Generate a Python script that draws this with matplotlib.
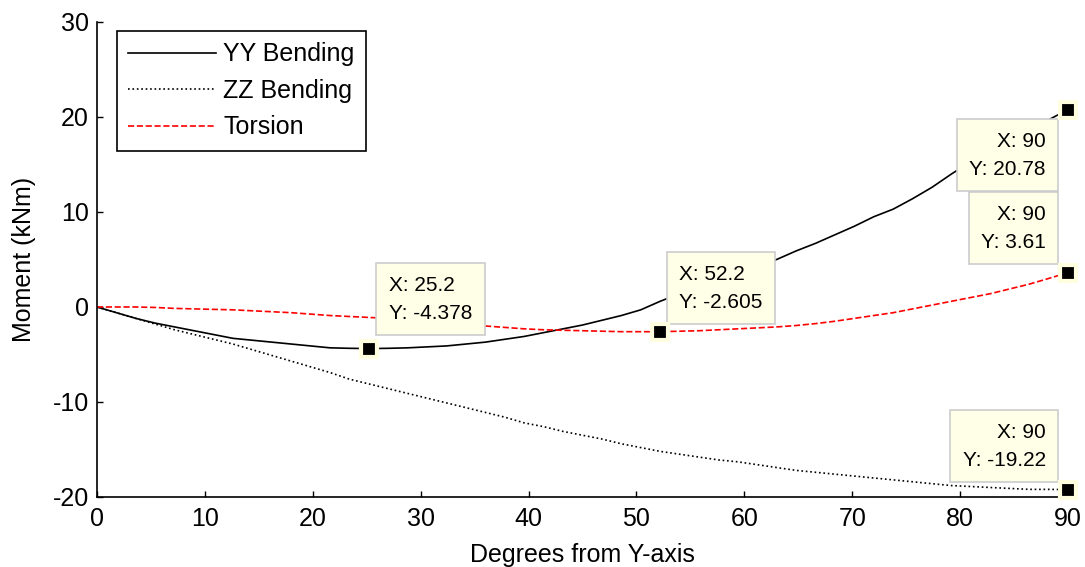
import matplotlib
matplotlib.use('Agg')
import matplotlib.pyplot as plt

plt.rcParams['font.family'] = ['Liberation Sans', 'DejaVu Sans']
plt.rcParams['axes.unicode_minus'] = False

# Angle (degrees from Y-axis), sampled every 1.8 deg
angle = [0, 1.8, 3.6, 5.4, 7.2, 9, 10.8, 12.6, 14.4, 16.2, 18, 19.8, 21.6, 23.4,
         25.2, 27, 28.8, 30.6, 32.4, 34.2, 36, 37.8, 39.6, 41.4, 43.2, 45, 46.8,
         48.6, 50.4, 52.2, 54, 55.8, 57.6, 59.4, 61.2, 63, 64.8, 66.6, 68.4, 70.2,
         72, 73.8, 75.6, 77.4, 79.2, 81, 82.8, 84.6, 86.4, 88.2, 90]

yy_bending = [0, -0.6, -1.2, -1.7, -2.1, -2.5, -2.9, -3.3, -3.5, -3.7, -3.9, -4.1,
              -4.3, -4.35, -4.378, -4.35, -4.3, -4.2, -4.1, -3.9, -3.7, -3.4, -3.1,
              -2.7, -2.3, -1.9, -1.4, -0.9, -0.3, 0.6, 1.4, 2.3, 3.1, 3.8, 4.4, 5.0,
              5.9, 6.7, 7.6, 8.5, 9.5, 10.3, 11.4, 12.6, 14.0, 15.3, 16.5, 17.6,
              18.7, 19.7, 20.78]

zz_bending = [0, -0.6, -1.2, -1.8, -2.4, -2.9, -3.4, -3.9, -4.5, -5.1, -5.7, -6.3,
              -6.9, -7.6, -8.1, -8.6, -9.1, -9.6, -10.1, -10.6, -11.1, -11.6, -12.2,
              -12.6, -13.1, -13.5, -13.9, -14.4, -14.8, -15.2, -15.5, -15.8, -16.1,
              -16.3, -16.6, -16.9, -17.2, -17.4, -17.6, -17.8, -18.0, -18.2, -18.4,
              -18.6, -18.8, -18.9, -19.0, -19.1, -19.2, -19.2, -19.22]

torsion = [0, 0, 0, -0.05, -0.15, -0.2, -0.25, -0.3, -0.4, -0.5, -0.6, -0.75, -0.9,
           -1.0, -1.1, -1.2, -1.35, -1.5, -1.65, -1.8, -2.0, -2.15, -2.3, -2.4,
           -2.45, -2.5, -2.55, -2.6, -2.6, -2.605, -2.55, -2.5, -2.4, -2.3, -2.2,
           -2.1, -1.95, -1.75, -1.5, -1.2, -0.9, -0.6, -0.2, 0.2, 0.6, 1.0, 1.4,
           1.9, 2.4, 3.0, 3.61]

# data tips: x, y, text alignment, offset (pixels)
tip_x = [25.2, 52.2, 90, 90, 90]
tip_y = [-4.378, -2.605, 20.78, 3.61, -19.22]
tip_labels = ['X: 25.2\nY: -4.378', 'X: 52.2\nY: -2.605', 'X: 90\nY: 20.78',
              'X: 90\nY: 3.61', 'X: 90\nY: -19.22']
tip_ha = ['left', 'left', 'right', 'right', 'right']
tip_va = ['bottom', 'bottom', 'top', 'bottom', 'bottom']
tip_off = [(20, 26), (19, 20), (-22, -22), (-22, 21), (-22, 20)]

fig = plt.figure(figsize=(10.85, 5.67), dpi=100)
ax = fig.add_axes([0.0894, 0.1235, 0.8949, 0.8377])

ax.plot(angle, yy_bending, '-', color='black', lw=1.2, label='YY Bending')
ax.plot(angle, zz_bending, ':', color='black', lw=1.2, label='ZZ Bending')
ax.plot(angle, torsion, '--', color='red', lw=1.2, label='Torsion')

ax.set_xlim(0, 90)
ax.set_ylim(-20, 30)
ax.set_xticks(range(0, 91, 10))
ax.set_yticks(range(-20, 31, 10))
ax.spines['top'].set_visible(False)
ax.spines['right'].set_visible(False)
for s in ['left', 'bottom']:
    ax.spines[s].set_linewidth(1.2)
ax.tick_params(direction='in', length=4.5, width=1.0, labelsize=18)
ax.tick_params(axis='x', pad=7)
ax.tick_params(axis='y', pad=6)

ax.set_xlabel('Degrees from Y-axis', fontsize=18, labelpad=9)
ax.set_ylabel('Moment (kNm)', fontsize=18, labelpad=12)

leg = ax.legend(loc='upper left', bbox_to_anchor=(0.0206, 0.981), borderaxespad=0,
                fontsize=18, handlelength=3.5, handletextpad=0.3, labelspacing=0.5,
                fancybox=False, framealpha=1, borderpad=0.45)
leg.get_frame().set_edgecolor('black')
leg.get_frame().set_linewidth(1.2)

for x, y, txt, ha, va, off in zip(tip_x, tip_y, tip_labels, tip_ha, tip_va, tip_off):
    ax.plot([x], [y], 's', color='black', ms=12, mec='#FFFFE0', mew=3,
            clip_on=False, zorder=6)
    ax.annotate(txt, xy=(x, y), xycoords='data', xytext=off,
                textcoords='offset pixels', ha=ha, va=va, fontsize=15,
                multialignment=ha, linespacing=1.6, zorder=5,
                bbox=dict(boxstyle='square,pad=0.6', fc='#FFFFE8', ec='#CCCCCC', lw=1.2))

fig.savefig('out.png', dpi=100)
